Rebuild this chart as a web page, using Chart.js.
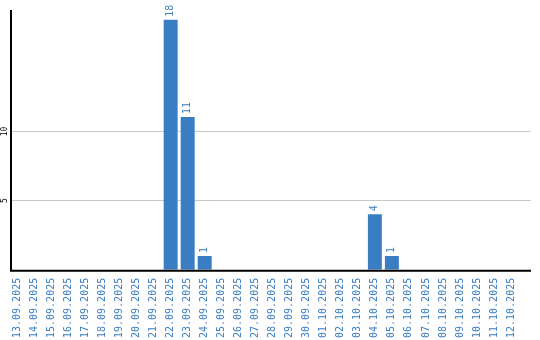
<!DOCTYPE html>
<html>
<head>
<meta charset="utf-8">
<script src="https://cdn.jsdelivr.net/npm/chart.js@4/dist/chart.umd.min.js"></script>
<style>
  body { margin: 0; background: #fff; }
  canvas { display: block; }
</style>
</head>
<body>
<canvas id="dayChart" width="540" height="340"></canvas>
<script>
// === Data ===
const days = ['13.09.2025', '14.09.2025', '15.09.2025', '16.09.2025', '17.09.2025', '18.09.2025',
  '19.09.2025', '20.09.2025', '21.09.2025', '22.09.2025', '23.09.2025', '24.09.2025',
  '25.09.2025', '26.09.2025', '27.09.2025', '28.09.2025', '29.09.2025', '30.09.2025',
  '01.10.2025', '02.10.2025', '03.10.2025', '04.10.2025', '05.10.2025', '06.10.2025',
  '07.10.2025', '08.10.2025', '09.10.2025', '10.10.2025', '11.10.2025', '12.10.2025'];
const counts = [0, 0, 0, 0, 0, 0, 0, 0, 0, 18, 11, 1, 0, 0, 0, 0, 0, 0,
  0, 0, 0, 4, 1, 0, 0, 0, 0, 0, 0, 0];
const yTicks = [5, 10];

const blue = '#3a7dc2';
const mono = '"DejaVu Sans Mono", "Liberation Mono", monospace';

// axes, grid lines, y labels and value labels drawn by hand
const decor = {
  id: 'decor',
  beforeDatasetsDraw(chart) {
    const c = chart.ctx, y = chart.scales.y;
    c.save();
    c.strokeStyle = '#c8c8c8';
    c.lineWidth = 1;
    yTicks.forEach(v => {
      const py = Math.round(y.getPixelForValue(v)) + 0.5;
      c.beginPath(); c.moveTo(11, py); c.lineTo(531, py); c.stroke();
      c.save();
      c.translate(5, py);
      c.rotate(-Math.PI / 2);
      c.fillStyle = '#000';
      c.font = '8px ' + mono;
      c.textAlign = 'center';
      c.textBaseline = 'middle';
      c.fillText(String(v), 0, 0);
      c.restore();
    });
    c.restore();
  },
  afterDatasetsDraw(chart) {
    const c = chart.ctx, area = chart.chartArea;
    c.save();
    c.strokeStyle = '#000';
    c.lineWidth = 2;
    c.beginPath();
    c.moveTo(11, area.top);
    c.lineTo(11, area.bottom + 1);
    c.lineTo(531, area.bottom + 1);
    c.stroke();
    // value labels
    const meta = chart.getDatasetMeta(0);
    c.fillStyle = blue;
    c.font = '10px ' + mono;
    c.textAlign = 'left';
    c.textBaseline = 'middle';
    meta.data.forEach((bar, i) => {
      if (!counts[i]) return;
      c.save();
      c.translate(bar.x, bar.y - 3);
      c.rotate(-Math.PI / 2);
      c.fillText(String(counts[i]), 0, 0);
      c.restore();
    });
    c.restore();
  }
};

new Chart(document.getElementById('dayChart').getContext('2d'), {
  type: 'bar',
  data: {
    labels: days,
    datasets: [{
      data: counts,
      backgroundColor: blue,
      borderWidth: 0,
      barPercentage: 0.82,
      categoryPercentage: 1
    }]
  },
  options: {
    responsive: false,
    animation: false,
    layout: { padding: { left: 9, right: 20.5, top: 10, bottom: -6 } },
    plugins: { legend: { display: false }, tooltip: { enabled: false } },
    scales: {
      x: {
        grid: { display: false, drawTicks: false },
        border: { display: false },
        ticks: {
          color: blue,
          font: { family: mono, size: 10 },
          minRotation: 90,
          maxRotation: 90,
          autoSkip: false,
          padding: 8
        }
      },
      y: {
        display: false,
        min: 0,
        max: 18.7
      }
    }
  },
  plugins: [decor]
});
</script>
</body>
</html>
